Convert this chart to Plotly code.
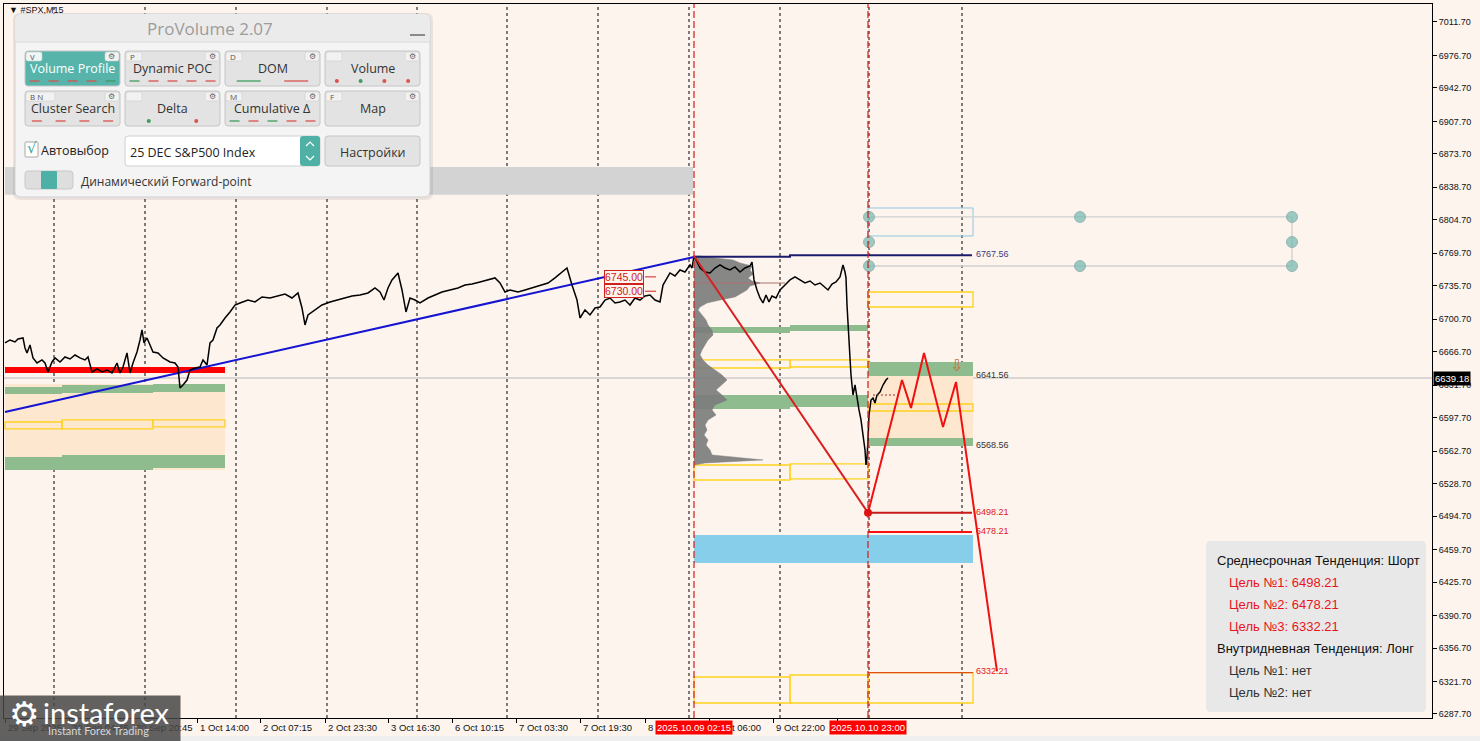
import plotly.graph_objects as go

# ------------------------------------------------------------------ data
price_x = [5, 10, 15, 18, 23, 25, 27, 30, 33, 37, 42, 45, 48, 52, 55, 60, 65, 70, 75, 80, 85, 88, 92, 97, 102,
           107, 112, 117, 120, 123, 127, 130, 133, 137, 140, 142, 144, 147, 150, 153, 158, 163, 170, 175, 178,
           180, 183, 187, 190, 195, 200, 203, 207, 210, 213, 217, 220, 223, 225, 230, 235, 240, 248, 255, 262,
           270, 278, 285, 292, 298, 302, 305, 308, 315, 322, 330, 338, 345, 352, 360, 368, 375, 380, 384, 388,
           392, 398, 402, 406, 410, 415, 420, 428, 435, 442, 450, 458, 465, 472, 480, 488, 495, 500, 505, 510,
           518, 525, 532, 540, 548, 555, 562, 567, 572, 577, 580, 585, 590, 595, 600, 605, 610, 615, 620, 625,
           630, 635, 640, 645, 650, 655, 660, 663, 666, 670, 675, 680, 685, 690, 692, 694, 697, 700, 705, 710,
           715, 720, 725, 730, 735, 740, 745, 750, 752, 754, 757, 760, 763, 766, 769, 772, 776, 780, 785, 790,
           795, 800, 805, 810, 815, 820, 825, 828, 832, 836, 840, 843, 845, 846, 847, 848, 849, 850, 851, 852,
           853, 855, 857, 859, 861, 863, 865, 866, 867, 868, 869, 871, 873, 875, 877, 880, 883, 886, 888]
price_y = [6675.9, 6679.0, 6676.9, 6680.0, 6681.1, 6670.6, 6665.4, 6673.8, 6660.2, 6654.9, 6658.1, 6654.9,
           6645.5, 6656.0, 6660.2, 6656.0, 6661.2, 6659.1, 6663.3, 6660.2, 6658.1, 6661.2, 6645.5, 6648.7,
           6645.5, 6647.6, 6644.5, 6654.9, 6644.5, 6650.7, 6665.4, 6644.5, 6654.9, 6666.4, 6679.0, 6689.5,
           6675.9, 6681.1, 6673.8, 6666.4, 6665.4, 6660.2, 6656.0, 6654.9, 6650.7, 6628.8, 6631.9, 6637.1,
           6647.6, 6649.7, 6650.7, 6658.1, 6652.8, 6675.9, 6679.0, 6691.5, 6694.7, 6699.9, 6702.0, 6708.3,
           6715.6, 6717.7, 6720.8, 6718.8, 6724.0, 6722.9, 6725.0, 6727.1, 6722.9, 6728.2, 6712.5, 6694.7,
           6705.2, 6710.4, 6715.6, 6718.8, 6720.8, 6722.9, 6725.0, 6726.1, 6728.2, 6733.4, 6729.2, 6720.8,
           6733.4, 6741.8, 6749.1, 6731.3, 6708.3, 6722.9, 6720.8, 6717.7, 6722.9, 6726.1, 6729.2, 6731.3,
           6733.4, 6736.5, 6737.6, 6739.7, 6741.8, 6743.9, 6738.6, 6729.2, 6731.3, 6729.2, 6731.3, 6733.4,
           6736.5, 6738.6, 6743.9, 6750.1, 6754.3, 6736.5, 6720.8, 6702.0, 6710.4, 6705.2, 6712.5, 6713.5,
           6720.8, 6722.9, 6717.7, 6718.8, 6720.8, 6715.6, 6722.9, 6720.8, 6725.0, 6726.1, 6720.8, 6718.8,
           6736.5, 6741.8, 6749.1, 6746.0, 6752.2, 6750.1, 6757.5, 6754.3, 6766.9, 6760.6, 6754.3, 6750.1,
           6749.1, 6754.3, 6757.5, 6754.3, 6752.2, 6755.4, 6750.1, 6754.3, 6756.4, 6760.6, 6741.8, 6731.3,
           6722.9, 6717.7, 6726.1, 6718.8, 6725.0, 6722.9, 6731.3, 6736.5, 6741.8, 6744.9, 6741.8, 6738.6,
           6740.7, 6736.5, 6738.6, 6733.4, 6731.3, 6737.6, 6739.7, 6744.9, 6757.5, 6750.1, 6743.9, 6715.6,
           6694.7, 6668.5, 6660.2, 6642.4, 6628.8, 6621.4, 6631.9, 6616.2, 6605.8, 6595.3, 6579.6, 6563.9,
           6548.2, 6555.5, 6574.4, 6600.5, 6616.2, 6618.3, 6613.1, 6621.4, 6624.6, 6631.9, 6637.1, 6639.2]

current_price = 6639.18

trend_x = [5, 694]
trend_y = [6603.7, 6765.8]

profile_start = 694
profile_levels = [6766.9, 6764.8, 6762.7, 6759.6, 6756.4, 6752.2, 6748.0, 6743.9, 6740.7, 6738.6, 6735.5,
                  6731.3, 6727.1, 6724.0, 6720.8, 6717.7, 6713.5, 6710.4, 6705.2, 6699.9, 6694.7, 6689.5,
                  6684.2, 6679.0, 6673.8, 6668.5, 6663.3, 6658.1, 6652.8, 6647.6, 6642.4, 6637.1, 6631.9,
                  6626.7, 6621.4, 6616.2, 6611.0, 6605.8, 6600.5, 6595.3, 6590.1, 6584.8, 6579.6, 6574.4,
                  6569.1, 6563.9, 6558.7, 6553.5, 6550.3, 6548.2]
profile_volume = [6, 21, 39, 46, 58, 56, 59, 54, 58, 66, 56, 53, 46, 41, 26, 13, 6, 4, 8, 12, 14, 18, 19, 14,
                  11, 8, 6, 9, 14, 21, 28, 33, 28, 22, 28, 33, 21, 18, 22, 14, 11, 13, 10, 14, 12, 16, 18, 69,
                  11, 0]
poc_level = 6738.6
poc_end = 785

# zones: x-start, x-end, low, high, kind
zone_x0 = [5, 5, 868, 5, 62, 153, 5, 62, 153, 5, 694, 790, 694, 790, 868, 868, 694,
           5, 62, 153, 694, 790, 694, 790, 868, 868, 694, 790, 868, 868]
zone_x1 = [693, 225, 973, 62, 153, 225, 62, 153, 225, 225, 790, 868, 790, 868, 973, 973, 973,
           62, 153, 225, 790, 868, 790, 868, 973, 973, 790, 868, 973, 973]
zone_lo = [6831.0, 6543.0, 6574.4, 6622.5, 6623.5, 6624.6, 6543.0, 6543.0, 6545.1, 6644.5, 6686.3, 6688.4,
           6606.8, 6608.9, 6641.3, 6568.1, 6445.7, 6585.9, 6585.9, 6588.0, 6649.7, 6650.7, 6532.5, 6533.6,
           6713.5, 6604.7, 6299.2, 6299.2, 6299.2, 6787.8]
zone_hi = [6860.0, 6633.0, 6641.3, 6629.8, 6631.9, 6633.0, 6556.6, 6558.7, 6558.7, 6650.7, 6692.6, 6694.7,
           6621.4, 6621.4, 6656.0, 6576.5, 6475.0, 6593.2, 6595.3, 6595.3, 6658.1, 6658.1, 6548.2, 6549.3,
           6729.2, 6612.0, 6326.4, 6328.5, 6331.0, 6817.1]
zone_kind = ['grey', 'orange', 'orange', 'green', 'green', 'green', 'green', 'green', 'green', 'red',
             'green', 'green', 'green', 'green', 'green', 'green', 'sky',
             'yellow', 'yellow', 'yellow', 'yellow', 'yellow', 'yellow', 'yellow', 'yellow', 'yellow',
             'yellow', 'yellow', 'yellow', 'ltblue']

resistance_level = 6767.56
zone_top_label = 6641.56
zone_bottom_label = 6568.56
targets = [6498.21, 6478.21, 6332.21]

proj_x = [868, 902, 911, 924, 943, 956, 997]
proj_y = [6498.21, 6637.1, 6607.9, 6665.4, 6588.0, 6635.1, 6332.21]
drop_x = [694, 868]
drop_y = [6766.9, 6498.21]

price_tags = [6745.00, 6730.00]

grid_circle_x = [869, 1080, 1292, 869, 1292, 869, 1080, 1292]
grid_circle_y = [6807.7, 6807.7, 6807.7, 6781.5, 6781.5, 6756.4, 6756.4, 6756.4]

grid_x = [54, 145, 236, 327, 417, 507, 598, 689, 780, 869, 962]
session_x = [694, 868]
session_labels = ["2025.10.09 02:15", "2025.10.10 23:00"]

x_ticks = [5, 69, 133, 197, 260, 325, 388, 452, 516, 580, 645, 709, 773, 837]
x_tick_labels = ["29 Sep 2025", "30 Sep 04:45", "30 Sep 20:45", "1 Oct 14:00", "2 Oct 07:15", "2 Oct 23:30",
                 "3 Oct 16:30", "6 Oct 10:15", "7 Oct 03:30", "7 Oct 19:30", "8 Oct", "9 Oct 06:00",
                 "9 Oct 22:00", ""]
y_ticks = [7011.70, 6976.70, 6942.70, 6907.70, 6873.70, 6838.70, 6804.70, 6769.70, 6735.70, 6700.70,
           6666.70, 6631.70, 6597.70, 6562.70, 6528.70, 6494.70, 6459.70, 6425.70, 6390.70, 6356.70,
           6321.70, 6287.70]
y_range = [6283.5, 7030.5]

info_lines = ["Среднесрочная Тенденция: Шорт", "Цель №1: 6498.21", "Цель №2: 6478.21", "Цель №3: 6332.21",
              "Внутридневная Тенденция: Лонг", "Цель №1: нет", "Цель №2: нет"]

# ------------------------------------------------------------------ layout helpers
W, H = 1480, 741
PL, PR, PT, PB = 4, 1432, 4, 718
BG = "#fdf4ee"
SANS = "Liberation Sans, Arial, sans-serif"
UI = "Open Sans, Noto Sans, sans-serif"


def fx(x):
    return (x - PL) / (PR - PL)


def fy(y):
    return (PB - y) / (PB - PT)


shapes = []
annotations = []


def rrect(x0, y0, x1, y1, r, fill, line=None, lw=1):
    L, R, T, B = fx(x0), fx(x1), fy(y0), fy(y1)
    rx, ry = r / (PR - PL), r / (PB - PT)
    p = (f"M {L+rx},{T} L {R-rx},{T} Q {R},{T} {R},{T-ry} L {R},{B+ry} Q {R},{B} {R-rx},{B} "
         f"L {L+rx},{B} Q {L},{B} {L},{B+ry} L {L},{T-ry} Q {L},{T} {L+rx},{T} Z")
    shapes.append(dict(type='path', xref='paper', yref='paper', path=p, fillcolor=fill,
                       line=dict(color=line if line else 'rgba(0,0,0,0)', width=lw if line else 0),
                       layer='above'))


def pline(x0, y0, x1, y1, color, width=1):
    shapes.append(dict(type='line', xref='paper', yref='paper', x0=fx(x0), y0=fy(y0), x1=fx(x1), y1=fy(y1),
                       line=dict(color=color, width=width), layer='above'))


def ptext(x, y, s, size, color, anchor='left', family=UI):
    annotations.append(dict(xref='paper', yref='paper', x=fx(x), y=fy(y), text=s, showarrow=False,
                            xanchor=anchor, yanchor='middle', borderpad=0,
                            font=dict(size=size, color=color, family=family)))


def dtext(x, y, s, size, color, anchor='left', yshift=0):
    annotations.append(dict(xref='x', yref='y', x=x, y=y, text=s, showarrow=False, xanchor=anchor,
                            yanchor='middle', yshift=yshift, borderpad=0,
                            font=dict(size=size, color=color, family=SANS)))


# ------------------------------------------------------------------ zones
zone_style = {
    'grey': dict(fillcolor='#d3d3d3', line=dict(width=0)),
    'orange': dict(fillcolor='#fde8cf', line=dict(width=0)),
    'green': dict(fillcolor='#8fbc8f', line=dict(width=0)),
    'red': dict(fillcolor='#ff0000', line=dict(width=0)),
    'sky': dict(fillcolor='#87ceeb', line=dict(width=0)),
    'yellow': dict(fillcolor='rgba(0,0,0,0)', line=dict(color='#ffd21f', width=1.3)),
    'ltblue': dict(fillcolor='rgba(0,0,0,0)', line=dict(color='#8cc8e0', width=1)),
}
for x0, x1, lo, hi, k in zip(zone_x0, zone_x1, zone_lo, zone_hi, zone_kind):
    shapes.append(dict(type='rect', xref='x', yref='y', x0=x0, x1=x1, y0=lo, y1=hi, layer='below',
                       **zone_style[k]))

# grid dashed verticals
for gx in grid_x:
    shapes.append(dict(type='line', xref='x', yref='paper', x0=gx, x1=gx, y0=0, y1=1, layer='below',
                       line=dict(color='black', width=1, dash='3px,3px')))
# current price line
shapes.append(dict(type='line', xref='paper', yref='y', x0=0, x1=1, y0=current_price, y1=current_price,
                   layer='below', line=dict(color='#b8b8b8', width=1)))
# session red dashed lines
for sx in session_x:
    shapes.append(dict(type='line', xref='x', yref='paper', x0=sx, x1=sx, y0=0, y1=1, layer='above',
                       line=dict(color='#d41a1a', width=1.2, dash='7px,3px')))

fig = go.Figure()

# volume profile
px_ = [profile_start] + [profile_start + v for v in profile_volume] + [profile_start]
py_ = [profile_levels[0]] + profile_levels + [profile_levels[-1]]
fig.add_trace(go.Scatter(x=px_, y=py_, mode='lines', fill='toself', fillcolor='rgba(125,125,125,0.92)',
                         line=dict(color='rgba(125,125,125,0.92)', width=0.5)))
fig.add_trace(go.Scatter(x=[profile_start, poc_end], y=[poc_level, poc_level], mode='lines',
                         line=dict(color='#b07070', width=1)))

# trend line
fig.add_trace(go.Scatter(x=trend_x, y=trend_y, mode='lines', line=dict(color='#1414d2', width=2)))
# resistance level
fig.add_trace(go.Scatter(x=[694, 790, 972], y=[resistance_level - 1.5, resistance_level, resistance_level],
                         mode='lines', line=dict(color='#1c1c6e', width=2, shape='hv')))

# teal grid
fig.add_trace(go.Scatter(x=[869, 1292, 1292, 869], y=[6807.7, 6807.7, 6756.4, 6756.4], mode='lines',
                         line=dict(color='#cfcfcf', width=1.3)))
fig.add_trace(go.Scatter(x=grid_circle_x, y=grid_circle_y, mode='markers',
                         marker=dict(size=11, color='rgba(120,188,178,0.75)',
                                     line=dict(color='rgba(140,170,170,0.8)', width=1))))

# price
fig.add_trace(go.Scatter(x=price_x, y=price_y, mode='lines', line=dict(color='black', width=1.5)))

# small dashed marker near last price
fig.add_trace(go.Scatter(x=[873, 900], y=[6621.4, 6621.4], mode='lines',
                         line=dict(color='#a03030', width=1, dash='2px,2px')))

# targets
fig.add_trace(go.Scatter(x=[868, 972], y=[targets[0], targets[0]], mode='lines',
                         line=dict(color='#c81a1a', width=2)))
fig.add_trace(go.Scatter(x=[868, 972], y=[targets[1], targets[1]], mode='lines',
                         line=dict(color='#ff1010', width=2)))
fig.add_trace(go.Scatter(x=[868, 973], y=[targets[2] - 1.2, targets[2] - 1.2], mode='lines',
                         line=dict(color='#e05010', width=1.3)))

# projection
fig.add_trace(go.Scatter(x=drop_x, y=drop_y, mode='lines', line=dict(color='#d81e1e', width=2)))
fig.add_trace(go.Scatter(x=proj_x, y=proj_y, mode='lines', line=dict(color='#f01010', width=2)))
fig.add_trace(go.Scatter(x=[drop_x[1]], y=[drop_y[1]], mode='markers',
                         marker=dict(size=8, color='#e01010')))

# price tags
for pt in price_tags:
    fig.add_trace(go.Scatter(x=[645, 656], y=[pt, pt], mode='lines', line=dict(color='#d02020', width=1)))
    annotations.append(dict(xref='x', yref='y', x=624, y=pt, text=f"{pt:.2f}", showarrow=False,
                            xanchor='center', yanchor='middle', bgcolor=BG, bordercolor='#d02020',
                            borderwidth=1, borderpad=0, font=dict(size=10.5, color='#d02020', family=SANS)))

# level labels
dtext(975, resistance_level, f"{resistance_level:.2f}", 9, '#3c3c80', yshift=1)
dtext(975, zone_top_label, f"{zone_top_label:.2f}", 9, '#333333', yshift=1)
dtext(975, zone_bottom_label, f"{zone_bottom_label:.2f}", 9, '#333333', yshift=1)
dtext(975, targets[0], f"{targets[0]:.2f}", 9, '#e01818', yshift=1)
dtext(975, targets[1], f"{targets[1]:.2f}", 9, '#e01818', yshift=1)
dtext(975, targets[2], f"{targets[2]:.2f}", 9, '#e01818', yshift=0)
annotations.append(dict(xref='x', yref='y', x=956, y=6651.8, text="⇩", showarrow=False,
                        font=dict(size=16, color='#c8703c', family='DejaVu Sans')))

# x-axis labels
for tx, tl in zip(x_ticks, x_tick_labels):
    if tl:
        annotations.append(dict(xref='x', yref='paper', x=tx + 2, y=fy(727), text=tl, showarrow=False,
                                xanchor='left', yanchor='middle', borderpad=0,
                                font=dict(size=9.5, color='#111', family=SANS)))
for sx, sl in zip(session_x, session_labels):
    annotations.append(dict(xref='x', yref='paper', x=sx, y=fy(727), text=sl, showarrow=False,
                            xanchor='center', yanchor='middle', bgcolor='#ff0000', borderpad=1,
                            font=dict(size=9.5, color='white', family=SANS)))

# current price tag
annotations.append(dict(xref='paper', yref='y', x=fx(1433), y=current_price, text=f"{current_price:.2f}",
                        showarrow=False, xanchor='left', yanchor='middle', bgcolor='black', borderpad=1,
                        font=dict(size=9.5, color='white', family=SANS)))

# symbol label
ptext(8, 10, "▼ #SPX,M15", 9, '#111', family=SANS)

# ------------------------------------------------------------------ ProVolume panel
rrect(13, 13, 433, 200, 7, 'rgba(0,0,0,0.07)')
rrect(15, 14, 430, 197, 6, '#f4f4f4', '#d2d2d2')
rrect(15, 14, 430, 42, 6, '#ebebeb')
pline(15, 42, 430, 42, '#d8d8d8', 1)
ptext(210, 29, "ProVolume 2.07", 17, '#9c9c9c', anchor='center')
pline(410, 35, 425, 35, '#8a8a8a', 2)

TEAL = '#57b4aa'
RED = '#d9534f'
GRN = '#3f9d5f'
buttons = [(25, 51, "Volume Profile", True, "V", "rrrrg", "dash"),
           (125, 51, "Dynamic POC", False, "P", "grrrr", "dash"),
           (225, 51, "DOM", False, "D", "gr", "long"),
           (325, 51, "Volume", False, "", "rgrr", "dot"),
           (25, 91, "Cluster Search", False, "B N", "rrrr", "dash"),
           (125, 91, "Delta", False, "", "gr", "dot"),
           (225, 91, "Cumulative Δ", False, "M", "grgrr", "dash"),
           (325, 91, "Map", False, "F", "", "")]
for bx, by, lab, act, tab, inds, sty in buttons:
    rrect(bx, by, bx + 95, by + 35, 3, TEAL if act else '#e3e3e3', '#c6c6c6')
    ptext(bx + 47.5, by + 17.5, lab, 12.5, 'white' if act else '#333', anchor='center')
    tw = 17 if tab != "B N" else 30
    rrect(bx + 1, by + 1, bx + tw, by + 10, 2, '#f2f2f2' if not act else '#eef7f6', '#cfcfcf', 0.6)
    if tab:
        ptext(bx + 4, by + 5.5, tab, 8, '#555')
    rrect(bx + 80, by + 1, bx + 94, by + 10, 2, '#f2f2f2', '#cfcfcf', 0.6)
    ptext(bx + 87, by + 5.5, "⚙", 8, '#666', anchor='center', family='DejaVu Sans')
    n = len(inds)
    for i, c in enumerate(inds):
        col = RED if c == 'r' else GRN
        cx = bx + (i + 0.5) * 95 / n
        cy = by + 30
        if sty == 'dot':
            shapes.append(dict(type='circle', xref='paper', yref='paper', x0=fx(cx - 2), x1=fx(cx + 2),
                               y0=fy(cy + 2), y1=fy(cy - 2), fillcolor=col, line=dict(width=0),
                               layer='above'))
        else:
            half = 12 if sty == 'long' else 5
            pline(cx - half, cy, cx + half, cy, col, 1.3)

# checkbox
rrect(25, 142, 38, 157, 1, 'white', '#a8a8a8')
ptext(31.5, 148, "√", 15, '#3aa59a', anchor='center', family='DejaVu Sans')
ptext(40, 150, "Автовыбор", 12.5, '#222')
# dropdown
rrect(125, 136, 320, 166, 3, 'white', '#d0d0d0')
ptext(129, 152, "25 DEC S&P500 Index", 12.5, '#222')
rrect(300, 136, 320, 166, 3, '#4fb0a5')
shapes.append(dict(type='path', xref='paper', yref='paper', layer='above', line=dict(color='white', width=1.2),
                   path=f"M {fx(306)},{fy(146)} L {fx(310)},{fy(142)} L {fx(314)},{fy(146)}"))
shapes.append(dict(type='path', xref='paper', yref='paper', layer='above', line=dict(color='white', width=1.2),
                   path=f"M {fx(306)},{fy(156)} L {fx(310)},{fy(160)} L {fx(314)},{fy(156)}"))
# settings button
rrect(325, 136, 420, 166, 3, '#e3e3e3', '#c6c6c6')
ptext(372.5, 152, "Настройки", 12.5, '#333', anchor='center')
# toggle
rrect(25, 171, 73, 189, 3, '#dedede', '#c8c8c8')
rrect(41, 171, 57, 189, 1, '#4fb0a5')
ptext(80, 181, "Динамический Forward-point", 12, '#333')

# ------------------------------------------------------------------ info box
rrect(1206, 541, 1426, 712, 5, '#e8e8e8')
info_pos = [(1216, 560, '#111'), (1228, 582, '#e8141b'), (1228, 604, '#e8141b'), (1228, 626, '#e8141b'),
            (1216, 648, '#111'), (1228, 670, '#333'), (1228, 692, '#333')]
for (ix, iy, ic), s in zip(info_pos, info_lines):
    ptext(ix, iy, s, 13, ic, family=SANS)

# bottom strip
shapes.append(dict(type='rect', xref='paper', yref='paper', x0=fx(0), x1=fx(1480), y0=fy(741), y1=fy(736),
                   fillcolor='#efefef', line=dict(width=0), layer='above'))

# ------------------------------------------------------------------ logo
annotations.append(dict(xref='paper', yref='paper', x=fx(90), y=fy(718.5), text=" ", showarrow=False,
                        width=180, height=45, bgcolor='rgba(70,70,70,0.85)', borderpad=0,
                        xanchor='center', yanchor='middle'))
ptext(24, 714, "⚙", 34, 'white', anchor='center', family='DejaVu Sans')
ptext(42, 712, "instaforex", 29, 'white', family='Lato, Open Sans, sans-serif')
ptext(47, 730, "Instant Forex Trading", 11, '#d8d8d8', family='Lato, Open Sans, sans-serif')

# ------------------------------------------------------------------ axes
fig.update_layout(
    width=W, height=H, showlegend=False, hovermode=False,
    margin=dict(l=PL, r=W - PR, t=PT, b=H - PB, pad=0),
    paper_bgcolor=BG, plot_bgcolor=BG,
    shapes=shapes, annotations=annotations,
    xaxis=dict(range=[PL, PR], showgrid=False, zeroline=False, tickvals=x_ticks,
               ticktext=[""] * len(x_ticks), ticks='outside', ticklen=4, tickcolor='black',
               showline=True, mirror=True, linecolor='black', linewidth=1, fixedrange=True),
    yaxis=dict(range=y_range, side='right', showgrid=False, zeroline=False, tickvals=y_ticks,
               ticktext=[f"{v:.2f}" for v in y_ticks], ticks='outside', ticklen=4, tickcolor='black',
               showline=True, mirror=True, linecolor='black', linewidth=1,
               tickfont=dict(size=9, color='#111', family=SANS), fixedrange=True),
)

fig.write_html("out.html", config={"displayModeBar": False},
               post_script="document.body.style.margin='0';document.body.style.padding='0';"
                           "document.body.style.background='" + BG + "';")
